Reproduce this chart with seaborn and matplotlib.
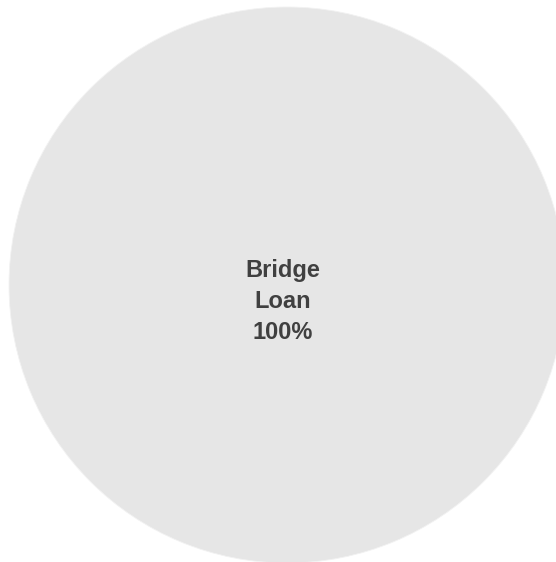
import matplotlib
matplotlib.use("Agg")
import matplotlib.pyplot as plt
import seaborn as sns

# Loan mix by type
categories = ["Bridge Loan"]
shares = [100]
colors = ["#e6e6e6"]

sns.set_theme(style="white")
plt.rcParams["font.family"] = ["Liberation Sans", "DejaVu Sans"]

fig = plt.figure(figsize=(5.56, 5.62), dpi=100)
ax = fig.add_axes([9 / 556, -1 / 562, 556 / 556, 556 / 562])

total = sum(shares)
wedges, _ = ax.pie(
    shares,
    colors=colors,
    startangle=90,
    counterclock=False,
    radius=1.0,
    wedgeprops=dict(edgecolor="#f2f2f2", linewidth=0.6),
)

for w, cat, val in zip(wedges, categories, shares):
    label = "\n".join(cat.split(" ")) + f"\n{val / total * 100:.0f}%"
    ax.text(-0.015, -0.06, label, ha="center", va="center",
            fontsize=17, fontweight="bold", color="#404040", linespacing=1.45)

ax.set_xlim(-1, 1)
ax.set_ylim(-1, 1)
ax.set_aspect("equal")
ax.axis("off")

fig.savefig("out.png", dpi=100)
